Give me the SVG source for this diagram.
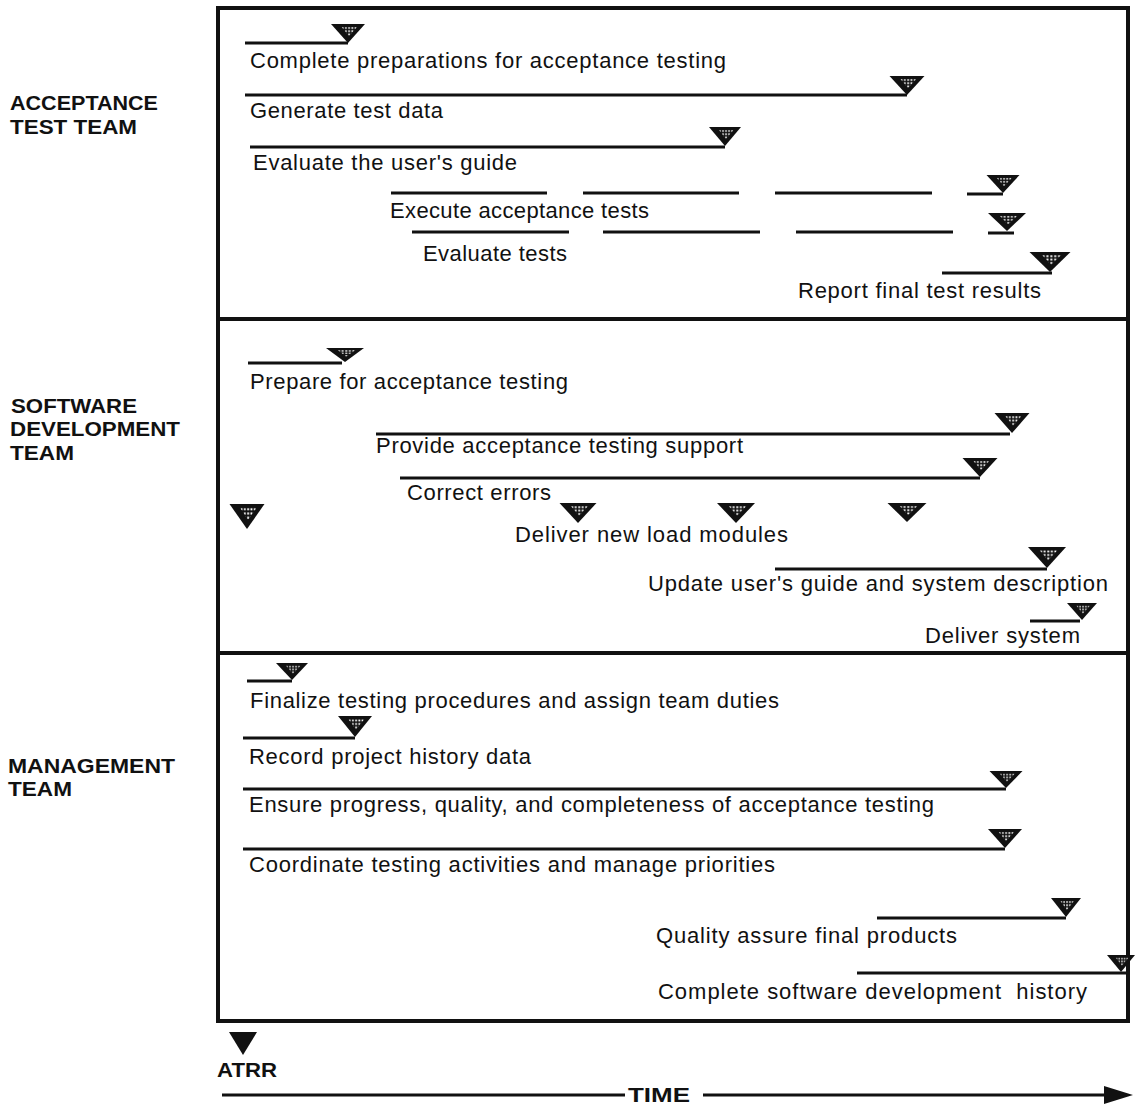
<svg xmlns="http://www.w3.org/2000/svg" xmlns:xlink="http://www.w3.org/1999/xlink" width="1135" height="1105" viewBox="0 0 1135 1105">
<style>
.t{font-family:"Liberation Sans",Arial,Helvetica,sans-serif;font-size:22px;fill:#111}
.h{font-family:"Liberation Sans",Arial,Helvetica,sans-serif;font-size:21px;font-weight:bold;fill:#111}
.bar{stroke:#111;stroke-width:3;fill:none}
.frame{stroke:#111;stroke-width:4;fill:none}
</style>
<defs>
<pattern id="dots" patternUnits="userSpaceOnUse" width="3.4" height="3.4">
<rect width="3.4" height="3.4" fill="#111"/>
<rect x="0.3" y="0.3" width="1.8" height="1.8" fill="#fff"/>
</pattern>
<g id="tri">
<polygon points="-18,-20 18,-20 0,0" fill="#111"/>
<polygon points="-7,-17 10,-17 1,-7" fill="url(#dots)"/>
</g>
</defs>
<rect width="1135" height="1105" fill="#fff"/>

<g id="frame">
<rect class="frame" x="218" y="8" width="910" height="1013"/>
<line class="frame" x1="218" y1="319" x2="1128" y2="319"/>
<line class="frame" x1="218" y1="653" x2="1128" y2="653"/>
</g>

<g id="team-labels">
<text class="h" x="10" y="110" textLength="148" lengthAdjust="spacingAndGlyphs">ACCEPTANCE</text>
<text class="h" x="10" y="134" textLength="127" lengthAdjust="spacingAndGlyphs">TEST TEAM</text>
<text class="h" x="11" y="413" textLength="126" lengthAdjust="spacingAndGlyphs">SOFTWARE</text>
<text class="h" x="10" y="436" textLength="170" lengthAdjust="spacingAndGlyphs">DEVELOPMENT</text>
<text class="h" x="10" y="460" textLength="64" lengthAdjust="spacingAndGlyphs">TEAM</text>
<text class="h" x="8" y="773" textLength="167" lengthAdjust="spacingAndGlyphs">MANAGEMENT</text>
<text class="h" x="8" y="796" textLength="64" lengthAdjust="spacingAndGlyphs">TEAM</text>
</g>

<g id="connectors">
<g id="time-axis">
<line class="bar" x1="222" y1="1095" x2="625" y2="1095"/>
<line class="bar" x1="703" y1="1095" x2="1108" y2="1095"/>
<polygon points="1104,1086 1133,1095 1104,1104" fill="#111"/>
<text class="h" x="628" y="1102" font-size="20" textLength="62" lengthAdjust="spacingAndGlyphs">TIME</text>
</g>
</g>

<g id="atrr">
<polygon points="229,1032 257,1032 243,1055" fill="#111"/>
<text class="h" x="217" y="1077" font-size="20" textLength="60" lengthAdjust="spacingAndGlyphs">ATRR</text>
</g>

<!-- Acceptance test team -->
<g id="a1">
<line class="bar" x1="245" y1="43" x2="348" y2="43"/>
<use xlink:href="#tri" transform="translate(348,43) scale(0.944,0.95)"/>
<text class="t" x="250" y="68" textLength="476" lengthAdjust="spacing">Complete preparations for acceptance testing</text>
</g>
<g id="a2">
<line class="bar" x1="245" y1="95" x2="907" y2="95"/>
<use xlink:href="#tri" transform="translate(907,95) scale(0.972,0.95)"/>
<text class="t" x="250" y="118" textLength="193" lengthAdjust="spacing">Generate test data</text>
</g>
<g id="a3">
<line class="bar" x1="250" y1="147" x2="725" y2="147"/>
<use xlink:href="#tri" transform="translate(725,146) scale(0.889,0.95)"/>
<text class="t" x="253" y="170" textLength="264" lengthAdjust="spacing">Evaluate the user's guide</text>
</g>
<g id="a4">
<line class="bar" x1="391" y1="193" x2="547" y2="193"/>
<line class="bar" x1="583" y1="193" x2="739" y2="193"/>
<line class="bar" x1="775" y1="193" x2="932" y2="193"/>
<line class="bar" x1="967" y1="194" x2="1003" y2="194"/>
<use xlink:href="#tri" transform="translate(1003,193) scale(0.917,0.9)"/>
<text class="t" x="390" y="218" textLength="259" lengthAdjust="spacing">Execute acceptance tests</text>
</g>
<g id="a5">
<line class="bar" x1="412" y1="232" x2="569" y2="232"/>
<line class="bar" x1="603" y1="232" x2="760" y2="232"/>
<line class="bar" x1="796" y1="232" x2="953" y2="232"/>
<line class="bar" x1="988" y1="233" x2="1014" y2="233"/>
<use xlink:href="#tri" transform="translate(1007,231) scale(1.056,0.9)"/>
<text class="t" x="423" y="261" textLength="144" lengthAdjust="spacing">Evaluate tests</text>
</g>
<g id="a6">
<line class="bar" x1="942" y1="273" x2="1052" y2="273"/>
<use xlink:href="#tri" transform="translate(1050,272) scale(1.139,1)"/>
<text class="t" x="798" y="298" textLength="243" lengthAdjust="spacing">Report final test results</text>
</g>

<!-- Software development team -->
<g id="s1">
<line class="bar" x1="248" y1="363" x2="342" y2="363"/>
<use xlink:href="#tri" transform="translate(345,362) scale(1.056,0.7)"/>
<text class="t" x="250" y="389" textLength="318" lengthAdjust="spacing">Prepare for acceptance testing</text>
</g>
<g id="s2">
<line class="bar" x1="376" y1="434" x2="1010" y2="434"/>
<use xlink:href="#tri" transform="translate(1012,433) scale(0.972,1)"/>
<text class="t" x="376" y="453" textLength="367" lengthAdjust="spacing">Provide acceptance testing support</text>
</g>
<g id="s3">
<line class="bar" x1="400" y1="478" x2="980" y2="478"/>
<use xlink:href="#tri" transform="translate(980,477) scale(0.972,0.95)"/>
<text class="t" x="407" y="500" textLength="144" lengthAdjust="spacing">Correct errors</text>
</g>
<g id="s0">
<use xlink:href="#tri" transform="translate(247,529) scale(0.972,1.25)"/>
</g>
<g id="s4">
<use xlink:href="#tri" transform="translate(578,523) scale(1.028,1)"/>
<use xlink:href="#tri" transform="translate(736,523) scale(1.056,1)"/>
<use xlink:href="#tri" transform="translate(907,522) scale(1.083,0.95)"/>
<text class="t" x="515" y="542" textLength="273" lengthAdjust="spacing">Deliver new load modules</text>
</g>
<g id="s5">
<line class="bar" x1="775" y1="569" x2="1047" y2="569"/>
<use xlink:href="#tri" transform="translate(1047,568) scale(1.056,1.05)"/>
<text class="t" x="648" y="591" textLength="460" lengthAdjust="spacing">Update user's guide and system description</text>
</g>
<g id="s6">
<line class="bar" x1="1030" y1="621" x2="1080" y2="621"/>
<use xlink:href="#tri" transform="translate(1082,620) scale(0.833,0.85)"/>
<text class="t" x="925" y="643" textLength="155" lengthAdjust="spacing">Deliver system</text>
</g>

<!-- Management team -->
<g id="m1">
<line class="bar" x1="247" y1="681" x2="292" y2="681"/>
<use xlink:href="#tri" transform="translate(292,680) scale(0.889,0.85)"/>
<text class="t" x="250" y="708" textLength="529" lengthAdjust="spacing">Finalize testing procedures and assign team duties</text>
</g>
<g id="m2">
<line class="bar" x1="243" y1="738" x2="355" y2="738"/>
<use xlink:href="#tri" transform="translate(355,737) scale(0.944,1.05)"/>
<text class="t" x="249" y="764" textLength="282" lengthAdjust="spacing">Record project history data</text>
</g>
<g id="m3">
<line class="bar" x1="243" y1="789" x2="1006" y2="789"/>
<use xlink:href="#tri" transform="translate(1006,788) scale(0.917,0.85)"/>
<text class="t" x="249" y="812" textLength="685" lengthAdjust="spacing">Ensure progress, quality, and completeness of acceptance testing</text>
</g>
<g id="m4">
<line class="bar" x1="243" y1="849" x2="1005" y2="849"/>
<use xlink:href="#tri" transform="translate(1005,848) scale(0.944,0.95)"/>
<text class="t" x="249" y="872" textLength="526" lengthAdjust="spacing">Coordinate testing activities and manage priorities</text>
</g>
<g id="m5">
<line class="bar" x1="877" y1="918" x2="1066" y2="918"/>
<use xlink:href="#tri" transform="translate(1066,917) scale(0.833,0.95)"/>
<text class="t" x="656" y="943" textLength="301" lengthAdjust="spacing">Quality assure final products</text>
</g>
<g id="m6">
<line class="bar" x1="857" y1="973" x2="1128" y2="973"/>
<use xlink:href="#tri" transform="translate(1121,972) scale(0.778,0.85)"/>
<text class="t" x="658" y="999" textLength="429" lengthAdjust="spacing" style="white-space:pre">Complete software development  history</text>
</g>
</svg>
